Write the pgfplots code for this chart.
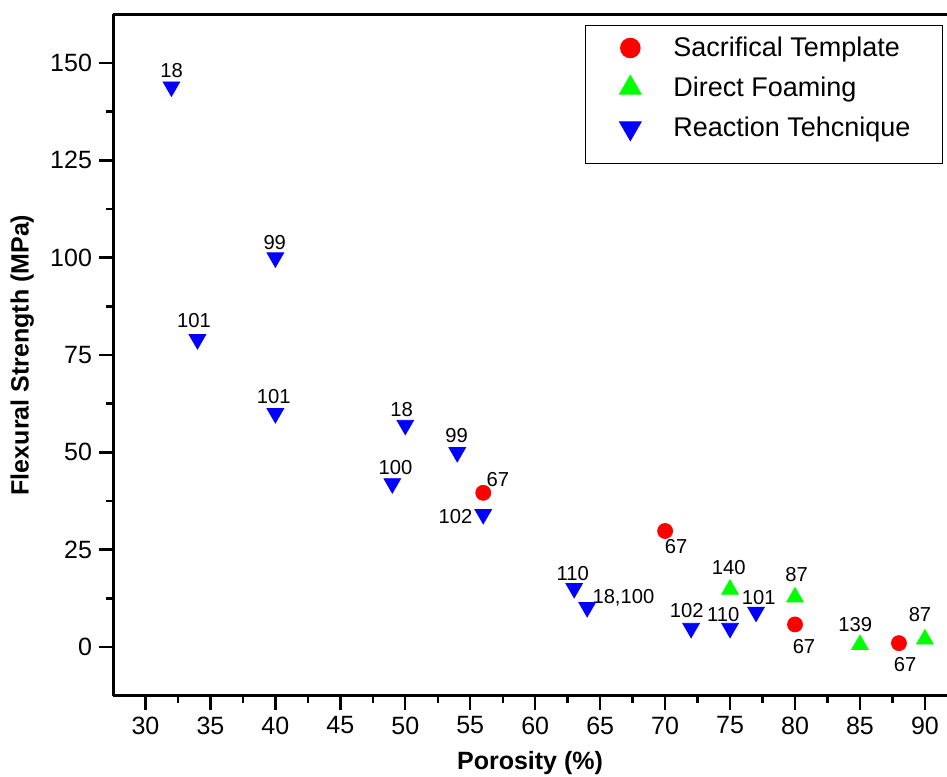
\documentclass[border=0pt]{standalone}
\usepackage{fontspec}
\setmainfont{Liberation Sans}
\usepackage{pgfplots}
\pgfplotsset{compat=1.18}

\definecolor{stred}{RGB}{255,0,0}
\definecolor{dfgreen}{RGB}{0,255,0}
\definecolor{rtblue}{RGB}{0,0,255}

\newcommand{\lab}{\fontsize{10.1}{12}\selectfont}

% legend image: mark only, with fixed room round it (depth, height)
\pgfplotsset{legimg/.style 2 args={legend image code/.code={
    \path[draw=none, fill=none] (-6.5pt,-#1) rectangle (21.5pt,#2);
    \draw[##1, every mark/.append style={scale=1.3}] plot coordinates {(0pt,0pt)};
}}}

\begin{document}
\begin{tikzpicture}
\begin{axis}[
    name=ax,
    scale only axis,
    width=417pt, height=340.7pt,
    xmin=27.5, xmax=91.7,
    ymin=-12.5, ymax=162.5,
    axis x line=box, axis y line=left,
    axis line style={-, line width=1.5pt},
    xtick pos=bottom,
    xtick={30,35,...,90},
    ytick={0,25,...,150},
    minor x tick num=1, minor y tick num=1,
    tick align=outside,
    major tick length=7pt, minor tick length=3.5pt,
    every tick/.style={black, line width=1.2pt},
    tick label style={font=\fontsize{12.5}{14}\selectfont},
    /pgf/number format/assume math mode=true,
    xlabel={Porosity (\%)},
    ylabel={Flexural Strength (MPa)},
    xlabel style={at={(axis description cs:0.5,-0.0987)}, anchor=center,
        font=\bfseries\fontsize{12.5}{14}\selectfont},
    ylabel style={at={(axis description cs:-0.109,0.5)}, anchor=center,
        font=\bfseries\fontsize{12.5}{14}\selectfont},
    legend style={at={(axis description cs:1,1)}, anchor=north east,
        xshift=-2pt, yshift=-5.6pt, draw=black, line width=0.5pt,
        inner xsep=16pt, inner ysep=1pt, row sep=0pt,
        font=\fontsize{13.5}{15}\selectfont,
        nodes={inner sep=0pt}},
    legend cell align=left,
]

% Sacrifical Template
\addplot[only marks, mark=*, mark size=3.75pt, color=stred, legimg={10pt}{10pt}]
coordinates {
    (56,39.6) (70,29.8) (80,5.8) (88,1.0)
};
\addlegendentry{Sacrifical Template}

% Direct Foaming
\addplot[only marks, mark=triangle*, mark size=4.8pt, color=dfgreen, legimg={10pt}{10pt}]
coordinates {
    (75,14.8) (80,12.8) (85,0.6) (90,2.0)
};
\addlegendentry{Direct Foaming}

% Reaction technique
\addplot[only marks, mark=triangle*, mark size=4.8pt, color=rtblue,
    mark options={rotate=180}, legimg={16.7pt}{10pt}] coordinates {
    (32,143.9) (34,79.0) (40,100.0) (40,60.0) (49,42.0) (50,57.0)
    (54,50.0) (56,34.1) (63,15.1) (64,10.2) (72,4.85) (75,4.85) (77,9.0)
};
\addlegendentry{Reaction Tehcnique}

% reference numbers
\node[font=\lab] at (axis cs:32.02,148.1) {18};
\node[font=\lab] at (axis cs:33.74,83.9) {101};
\node[font=\lab] at (axis cs:39.95,103.9) {99};
\node[font=\lab] at (axis cs:39.87,64.3) {101};
\node[font=\lab] at (axis cs:49.25,46.1) {100};
\node[font=\lab] at (axis cs:49.72,61.0) {18};
\node[font=\lab] at (axis cs:53.95,54.3) {99};
\node[font=\lab] at (axis cs:53.87,33.5) {102};
\node[font=\lab] at (axis cs:57.12,43.0) {67};
\node[font=\lab] at (axis cs:62.89,18.8) {110};
\node[font=\lab] at (axis cs:66.79,12.7) {18,100};
\node[font=\lab] at (axis cs:70.85,25.7) {67};
\node[font=\lab] at (axis cs:71.66,9.4) {102};
\node[font=\lab] at (axis cs:74.48,8.3) {110};
\node[font=\lab] at (axis cs:74.89,20.5) {140};
\node[font=\lab] at (axis cs:77.2,12.7) {101};
\node[font=\lab] at (axis cs:80.12,18.7) {87};
\node[font=\lab] at (axis cs:80.69,0.18) {67};
\node[font=\lab] at (axis cs:84.64,5.8) {139};
\node[font=\lab] at (axis cs:88.48,-4.4) {67};
\node[font=\lab] at (axis cs:89.62,8.4) {87};
\end{axis}
\pgfresetboundingbox
\path[use as bounding box] ([xshift=-56.5pt,yshift=-40.15pt]ax.south west)
    rectangle ([yshift=7.15pt]ax.north east);
\end{tikzpicture}
\end{document}
